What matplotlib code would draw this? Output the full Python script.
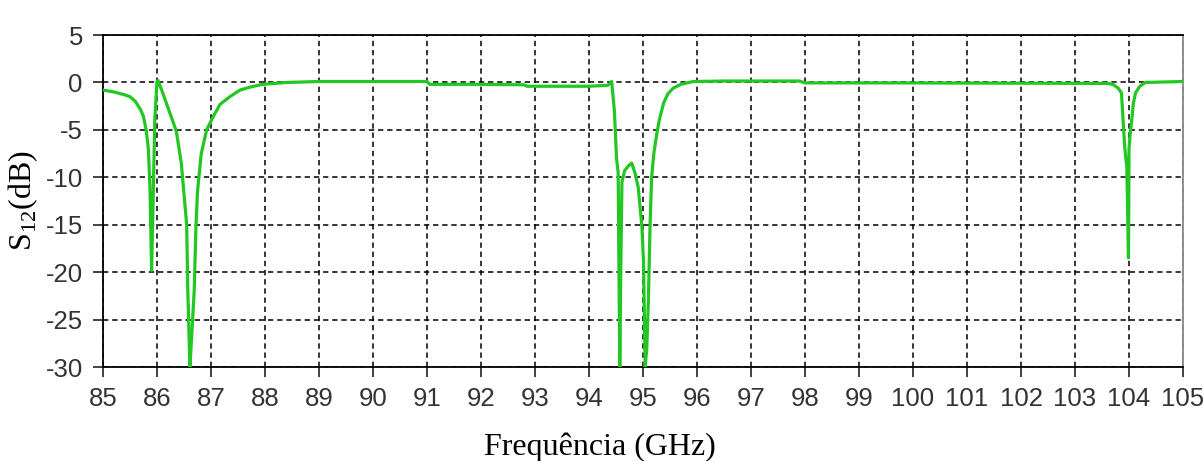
import numpy as np
import matplotlib
matplotlib.use('Agg')
import matplotlib.pyplot as plt

# frequência (GHz) e S12 (dB)
freq = [85.0, 85.2, 85.4, 85.5, 85.6, 85.7, 85.75, 85.8, 85.84, 85.87, 85.9, 85.93, 85.96,
        86.0, 86.02, 86.1, 86.2, 86.3, 86.36, 86.45, 86.55, 86.57, 86.61, 86.63, 86.66,
        86.69, 86.72, 86.75, 86.82, 86.92, 87.05, 87.17, 87.35, 87.54, 87.75, 87.96, 88.4,
        89.0, 90.0, 91.0, 91.05, 92.0, 92.8, 92.85, 94.0, 94.35, 94.42, 94.47, 94.51, 94.54,
        94.57, 94.59, 94.61, 94.66, 94.73, 94.79, 94.85, 94.91, 94.98, 95.01, 95.04, 95.07,
        95.1, 95.13, 95.16, 95.2, 95.25, 95.3, 95.38, 95.46, 95.56, 95.7, 95.93, 96.5, 97.0,
        97.9, 98.0, 100.0, 103.6, 103.7, 103.8, 103.86, 103.89, 103.92, 103.96, 103.99,
        104.0, 104.02, 104.05, 104.08, 104.12, 104.2, 104.3, 105.0]
s12 = [-0.8, -1.0, -1.3, -1.5, -2.0, -2.9, -3.6, -5.0, -7.0, -11.0, -19.8, -12.0, -4.0,
       0.1, 0.2, -1.0, -2.6, -4.2, -5.2, -8.5, -15.0, -21.8, -30.0, -28.0, -25.0,
       -21.9, -15.5, -11.5, -7.5, -5.0, -3.5, -2.3, -1.5, -0.8, -0.45, -0.2, 0.0,
       0.1, 0.1, 0.1, -0.2, -0.2, -0.25, -0.4, -0.4, -0.3, 0.1, -3.0, -8.0, -9.5,
       -30.0, -19.0, -10.5, -9.3, -8.8, -8.5, -9.5, -11.0, -15.2, -19.0, -30.0, -28.0,
       -22.9, -15.2, -10.0, -7.5, -5.6, -4.0, -2.2, -1.2, -0.6, -0.2, 0.1, 0.15, 0.15,
       0.15, -0.05, -0.05, -0.1, -0.2, -0.6, -1.1, -4.0, -6.8, -9.0, -18.5,
       -7.0, -5.5, -4.0, -2.2, -1.1, -0.4, 0.0, 0.1]

xticks = np.arange(85, 106, 1)
yticks = np.arange(-30, 6, 5)

plt.rcParams['axes.unicode_minus'] = False
plt.rcParams['mathtext.fontset'] = 'custom'
plt.rcParams['mathtext.rm'] = 'Liberation Serif'

fig = plt.figure(figsize=(12.03, 4.61), dpi=100)
ax = fig.add_axes([0.0856, 0.2039, 0.8978, 0.7201])

ax.plot(freq, s12, color='#22c722', lw=2.3, zorder=3)

ax.set_xlim(85, 105)
ax.set_ylim(-30, 5)
ax.set_xticks(xticks)
ax.set_yticks(yticks)
ax.grid(True, color='black', linestyle=(0, (3.5, 2.5)), linewidth=1.1)

ax.tick_params(axis='both', direction='out', length=7.5, width=1.2, color='#222222',
               labelsize=18.5, labelcolor='#333333', pad=7)
for lab in ax.get_xticklabels() + ax.get_yticklabels():
    lab.set_fontfamily('Liberation Sans')

for sp in ['left', 'top', 'bottom']:
    ax.spines[sp].set_color('black')
    ax.spines[sp].set_linewidth(1.3)
ax.spines['right'].set_color('#888888')
ax.spines['right'].set_linewidth(1.3)

ax.set_xlabel('Frequência (GHz)', fontfamily='Liberation Serif', fontsize=23)
ax.xaxis.set_label_coords(0.46, -0.198)
ax.set_ylabel(r'S$_{\mathrm{12}}$(dB)', fontfamily='Liberation Serif', fontsize=23)
ax.yaxis.set_label_coords(-0.058, 0.5)

plt.savefig('out.png', dpi=100)
plt.close()
